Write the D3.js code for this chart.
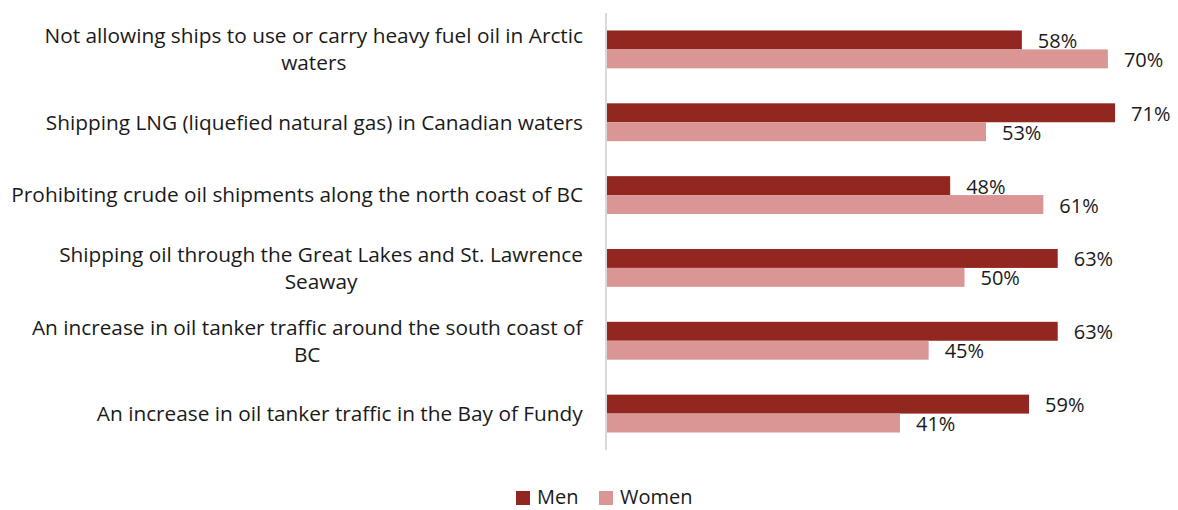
<!DOCTYPE html>
<html>
<head>
<meta charset="utf-8">
<script src="https://cdn.jsdelivr.net/npm/d3@7"></script>
<style>
  body { margin: 0; background: #fff; }
  text { font-family: "Open Sans", sans-serif; fill: #1a1a1a; }
</style>
</head>
<body>
<svg id="chart"></svg>
<script>
// categories, top to bottom ("\n" marks where the label wraps)
const categories = [
    "Not allowing ships to use or carry heavy fuel oil in Arctic\nwaters",
    "Shipping LNG (liquefied natural gas) in Canadian waters",
    "Prohibiting crude oil shipments along the north coast of BC",
    "Shipping oil through the Great Lakes and St. Lawrence\nSeaway",
    "An increase in oil tanker traffic around the south coast of\nBC",
    "An increase in oil tanker traffic in the Bay of Fundy"
];
const seriesNames = ["Men", "Women"];
const menValues = [58, 71, 48, 63, 63, 59];
const womenValues = [70, 53, 61, 50, 45, 41];

const colors = ["#922720", "#DA9694"];

const svgWidth = 1178,
    svgHeight = 510;
const margin = {top: 13, left: 606, bottom: 60};
const plotHeight = svgHeight - margin.top - margin.bottom;

const chart = d3.select('#chart')
    .attr("width", svgWidth)
    .attr("height", svgHeight);

const g = chart.append("g")
    .attr("transform", `translate(${margin.left},${margin.top})`);

// x: percent -> pixels
var xScale = d3.scaleLinear().domain([0, 100]).range([0, 717]);
// y: one band per category
var yScale = d3.scaleBand().domain(d3.range(categories.length)).range([0, plotHeight]).paddingInner(0.48).paddingOuter(0.24);
var ySub = d3.scaleBand().domain([0, 1]).range([0, yScale.bandwidth()]);

const rows = categories.map((c, i) => ({cat: c, i: i, vals: [menValues[i], womenValues[i]]}));

// bars
const grp = g.selectAll(".grp")
    .data(rows)
    .enter().append("g")
    .attr("class", "grp")
    .attr("transform", d => `translate(0,${yScale(d.i)})`);

grp.selectAll("rect")
    .data(d => d.vals.map((v, k) => ({v: v, k: k})))
    .enter().append("rect")
    .attr("x", 0)
    .attr("y", d => ySub(d.k))
    .attr("width", d => xScale(d.v))
    .attr("height", ySub.bandwidth())
    .style("fill", d => colors[d.k]);

// value labels
grp.selectAll("text.val")
    .data(d => d.vals.map((v, k) => ({v: v, k: k})))
    .enter().append("text")
    .attr("class", "val")
    .attr("x", d => xScale(d.v) + 16)
    .attr("y", d => ySub(d.k) + ySub.bandwidth() / 2 + 1)
    .attr("dy", "0.35em")
    .style("font-size", "20px")
    .text(d => d.v + "%");

// axis line
g.append("line")
    .attr("x1", 0).attr("x2", 0)
    .attr("y1", 0).attr("y2", plotHeight)
    .style("stroke", "#d9d9d9")
    .style("stroke-width", 2);

// category labels, centred block with right edge near the axis
const lineH = 27;
rows.forEach(d => {
    const lines = d.cat.split("\n");
    const cy = margin.top + yScale(d.i) + yScale.bandwidth() / 2;
    const t = chart.append("text")
        .style("font-size", "20.8px")
        .attr("text-anchor", "middle");
    lines.forEach((ln, j) => {
        t.append("tspan")
            .attr("x", 0)
            .attr("y", cy + (j - (lines.length - 1) / 2) * lineH)
            .attr("dy", "0.35em")
            .text(ln);
    });
    // shift so the widest line ends at x=583
    const w = t.node().getBBox().width;
    t.selectAll("tspan").attr("x", 583 - w / 2);
});

// legend
const legend = chart.append("g").attr("transform", "translate(516,497)");
const legX = [0, 83];
seriesNames.forEach((s, k) => {
    legend.append("rect")
        .attr("x", legX[k]).attr("y", -6)
        .attr("width", 14).attr("height", 14)
        .style("fill", colors[k]);
    legend.append("text")
        .attr("x", legX[k] + 21).attr("y", 0)
        .attr("dy", "0.35em")
        .style("font-size", "20px")
        .text(s);
});
</script>
</body>
</html>
